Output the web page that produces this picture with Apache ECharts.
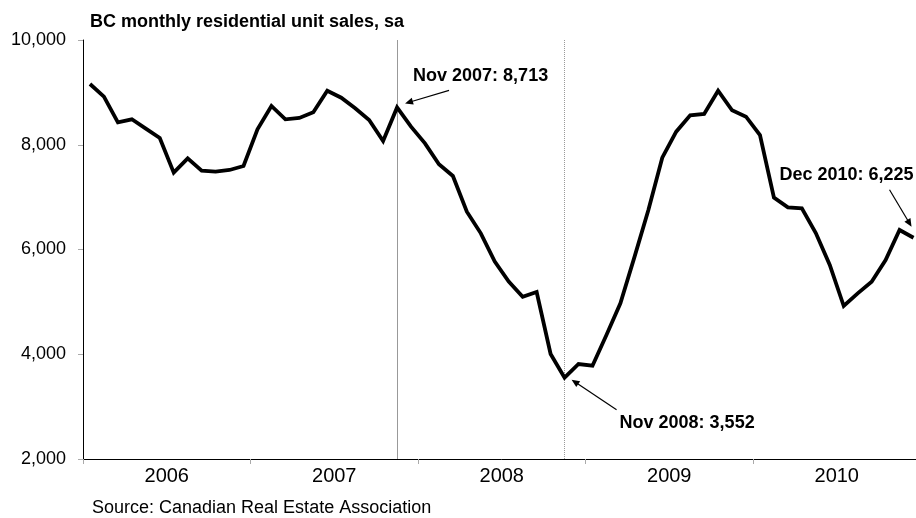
<!DOCTYPE html>
<html><head><meta charset="utf-8">
<script src="https://cdn.jsdelivr.net/npm/echarts@6/dist/echarts.min.js"></script>
<style>html,body{margin:0;padding:0;background:#fff;overflow:hidden;width:916px;height:518px}#c{width:921px;height:518px}</style>
</head><body><div id="c"></div>
<script>
const months = [
 'Jan 2006','Feb 2006','Mar 2006','Apr 2006','May 2006','Jun 2006','Jul 2006','Aug 2006','Sep 2006','Oct 2006','Nov 2006','Dec 2006',
 'Jan 2007','Feb 2007','Mar 2007','Apr 2007','May 2007','Jun 2007','Jul 2007','Aug 2007','Sep 2007','Oct 2007','Nov 2007','Dec 2007',
 'Jan 2008','Feb 2008','Mar 2008','Apr 2008','May 2008','Jun 2008','Jul 2008','Aug 2008','Sep 2008','Oct 2008','Nov 2008','Dec 2008',
 'Jan 2009','Feb 2009','Mar 2009','Apr 2009','May 2009','Jun 2009','Jul 2009','Aug 2009','Sep 2009','Oct 2009','Nov 2009','Dec 2009',
 'Jan 2010','Feb 2010','Mar 2010','Apr 2010','May 2010','Jun 2010','Jul 2010','Aug 2010','Sep 2010','Oct 2010','Nov 2010','Dec 2010'
];
const years = ['2006','2007','2008','2009','2010'];
const sales = [
 9160, 8918, 8428, 8486, 8307, 8129, 7467, 7741, 7505, 7486, 7518, 7594,
 8295, 8740, 8486, 8511, 8620, 9032, 8898, 8696, 8473, 8072, 8713, 8345,
 8027, 7627, 7403, 6722, 6309, 5768, 5386, 5099, 5189, 4005, 3552, 3814,
 3782, 4368, 4973, 5850, 6750, 7753, 8250, 8562, 8587, 9032, 8657, 8536,
 8186, 6990, 6805, 6786, 6315, 5704, 4921, 5163, 5386, 5800, 6372, 6225
];
const titleText = 'BC monthly residential unit sales, sa';
const sourceText = 'Source: Canadian Real Estate Association';
const markMonths = ['Nov 2007', 'Nov 2008'];
const annoMonths = ['Nov 2007', 'Nov 2008', 'Dec 2010'];
const annoTexts = ['Nov 2007: 8,713', 'Nov 2008: 3,552', 'Dec 2010: 6,225'];

const FONT = '"Liberation Sans", Arial, sans-serif';
const chart = echarts.init(document.getElementById('c'), null, {renderer:'canvas', width: 921, height: 518});
chart.setOption({
  animation: false,
  backgroundColor: '#fff',
  title: [
    {text: titleText, left: 90, top: 13, padding: 0,
     textStyle: {fontSize: 18, fontWeight: 'bold', fontFamily: FONT, color: '#000'}},
    {text: sourceText, left: 92, top: 499, padding: 0,
     textStyle: {fontSize: 18, fontWeight: 'normal', fontFamily: FONT, color: '#000'}}
  ],
  grid: {left: 83, top: 40, right: 0.5, height: 419, containLabel: false},
  xAxis: [
    {type: 'category', data: months, boundaryGap: true,
     axisLine: {show: true, lineStyle: {color: '#000', width: 1}},
     axisTick: {show: false}, axisLabel: {show: false}, splitLine: {show: false}},
    {type: 'category', data: years, boundaryGap: true, position: 'bottom',
     axisLine: {show: false},
     axisTick: {show: true, length: 5, lineStyle: {color: '#aaa', width: 1}},
     axisLabel: {show: true, fontSize: 20, color: '#000', fontFamily: FONT, margin: 7},
     splitLine: {show: false}}
  ],
  yAxis: {
    type: 'value', min: 2000, max: 10000, interval: 2000,
    axisLine: {show: true, lineStyle: {color: '#000', width: 1}},
    axisTick: {show: true, length: 5, lineStyle: {color: '#aaa', width: 1}},
    splitLine: {show: false},
    axisLabel: {formatter: v => v.toLocaleString('en-US'), fontSize: 18, color: '#000', fontFamily: FONT, margin: 17}
  },
  series: [{
    type: 'line', data: sales, xAxisIndex: 0, showSymbol: false, symbol: 'none',
    lineStyle: {color: '#000', width: 3.8, join: 'miter'},
    z: 3,
    markLine: {
      silent: true, symbol: 'none', label: {show: false}, z: 1,
      data: [
        {xAxis: markMonths[0], lineStyle: {color: '#999', width: 1, type: 'solid'}},
        {xAxis: markMonths[1], lineStyle: {color: '#999', width: 1, type: 'dotted'}}
      ]
    }
  }]
});

// annotation layout (pixel offsets relative to each data point)
const layout = [
  {tail: [52, -17], tip: [8, -4], text: [16, -31]},
  {tail: [52, 32], tip: [7, 2], text: [55, 45]},
  {tail: [-24, -48], tip: [-2, -11], text: [-134, -63]}
];
const elements = [];
annoMonths.forEach((m, k) => {
  const idx = months.indexOf(m);
  const p = chart.convertToPixel({seriesIndex: 0}, [idx, sales[idx]]);
  const L = layout[k];
  const tx = p[0] + L.tail[0], ty = p[1] + L.tail[1];
  const hx = p[0] + L.tip[0], hy = p[1] + L.tip[1];
  const dx = hx - tx, dy = hy - ty, len = Math.hypot(dx, dy);
  const ux = dx / len, uy = dy / len;
  const hl = 8, hw = 3.5;
  const bx = hx - ux * hl, by = hy - uy * hl;
  elements.push({type: 'line', shape: {x1: tx, y1: ty, x2: bx + ux * 2, y2: by + uy * 2},
    style: {stroke: '#000', lineWidth: 1.2}, z: 10});
  elements.push({type: 'polygon', shape: {points: [[hx, hy], [bx - uy * hw, by + ux * hw], [bx + uy * hw, by - ux * hw]]},
    style: {fill: '#000'}, z: 10});
  elements.push({type: 'text', x: p[0] + L.text[0], y: p[1] + L.text[1], z: 10,
    style: {text: annoTexts[k], font: 'bold 18px ' + FONT, fill: '#000', align: 'left', verticalAlign: 'middle'}});
});
chart.setOption({graphic: {elements: elements}});
</script>
</body></html>
